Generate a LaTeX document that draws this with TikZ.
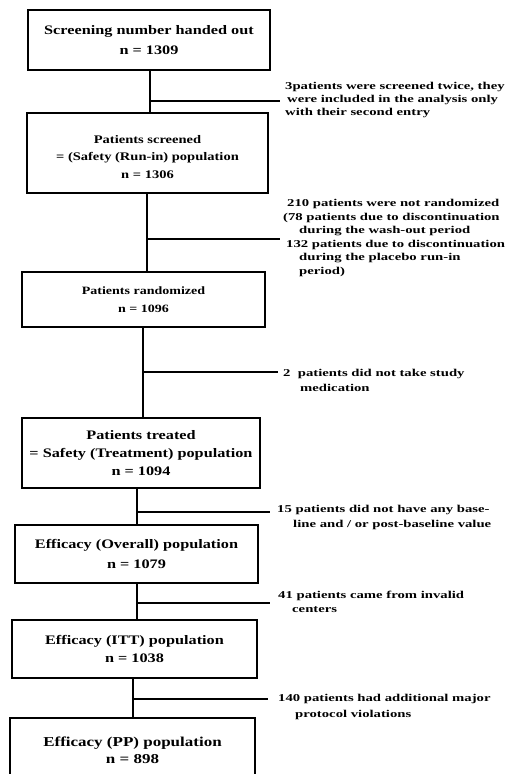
\documentclass[tikz,border=0pt]{standalone}
\usepackage{fontspec}
\setmainfont{Liberation Serif}
\newfontfamily\sidefont{Liberation Serif}[FakeStretch=1.4]
\newfontfamily\boxfontfam{Liberation Serif}[FakeStretch=1.25]
\begin{document}
\begin{tikzpicture}[x=1pt,y=-1pt,
  box/.style={draw, line width=1.5pt, align=center, inner sep=0pt,
    font=\boxfontfam\bfseries\fontsize{11.6}{17.5}\selectfont},
  midbox/.style={box, font=\boxfontfam\bfseries\fontsize{11.2}{18}\selectfont},
  bigbox/.style={box, font=\boxfontfam\bfseries\fontsize{13}{20}\selectfont},
  lowbox/.style={box, font=\boxfontfam\bfseries\fontsize{13}{18}\selectfont},
  widebox/.style={box, font=\boxfontfam\bfseries\fontsize{13}{20}\selectfont},
  side/.style={align=left, inner sep=0pt, anchor=base west,
    font=\sidefont\bfseries\fontsize{10.5}{13}\selectfont},
  link/.style={line width=1.5pt}]
\useasboundingbox (0,0) rectangle (522,774);
\clip (0,0) rectangle (522,774);

% boxes
\node[bigbox, minimum width=242pt, minimum height=60pt] (b1) at (149,40)
  {Screening number handed out\\ n = 1309};
\node[box, minimum width=241pt, minimum height=80pt] (b2) at (147.5,153)
  {\rule{0pt}{16pt}Patients screened\\ = (Safety (Run-in) population\\ n = 1306};
\node[midbox, minimum width=243pt, minimum height=55pt] (b3) at (143.5,299.5)
  {Patients randomized\\ n = 1096};
\node[lowbox, minimum width=238pt, minimum height=70pt] (b4) at (141,453)
  {Patients treated\\ = Safety (Treatment) population\\ n = 1094};
\node[widebox, minimum width=243pt, minimum height=58pt] (b5) at (136.5,554)
  {Efficacy (Overall) population\\ n = 1079};
\node[lowbox, minimum width=245pt, minimum height=58pt] (b6) at (134.5,649)
  {Efficacy (ITT) population\\ n = 1038};
\node[lowbox, font=\boxfontfam\bfseries\fontsize{13.6}{17}\selectfont,
  minimum width=245pt, minimum height=64pt] (b7) at (132.5,750)
  {Efficacy (PP) population\\ n = 898};

% junctions and free ends
\coordinate (j1) at (150,101); \coordinate (e1) at (280,101);
\coordinate (j2) at (147,239); \coordinate (e2) at (280,239);
\coordinate (j3) at (143,372); \coordinate (e3) at (278,372);
\coordinate (j4) at (137,512); \coordinate (e4) at (270,512);
\coordinate (j5) at (137,603); \coordinate (e5) at (270,603);
\coordinate (j6) at (133,699); \coordinate (e6) at (268,699);

% main flow
\draw[link] (b1.south -| j1) -- (b2.north -| j1);
\draw[link] (b2.south -| j2) -- (b3.north -| j2);
\draw[link] (b3.south -| j3) -- (b4.north -| j3);
\draw[link] (b4.south -| j4) -- (b5.north -| j4);
\draw[link] (b5.south -| j5) -- (b6.north -| j5);
\draw[link] (b6.south -| j6) -- (b7.north -| j6);

% branches
\draw[link] (j1) -- (e1);
\draw[link] (j2) -- (e2);
\draw[link] (j3) -- (e3);
\draw[link] (j4) -- (e4);
\draw[link] (j5) -- (e5);
\draw[link] (j6) -- (e6);

% side notes (base anchor = baseline of the last line)
\node[side] (s1) at (285,115)
  {3patients were screened twice, they\\
   \hspace*{2pt}were included in the analysis only\\
   with their second entry};
\node[side, font=\sidefont\bfseries\fontsize{10.5}{13.5}\selectfont] (s2) at (283,274)
  {\hspace*{4pt}210 patients were not randomized\\
   (78 patients due to discontinuation\\
   \hspace*{16pt}during the wash-out period\\
   \hspace*{3pt}132 patients due to discontinuation\\
   \hspace*{16pt}during the placebo run-in\\
   \hspace*{16pt}period)};
\node[side, font=\sidefont\bfseries\fontsize{10.5}{15}\selectfont] (s3) at (283,391)
  {2\ \ patients did not take study\\
   \hspace*{17pt}medication};
\node[side, font=\sidefont\bfseries\fontsize{10.5}{15}\selectfont] (s4) at (277,527)
  {15 patients did not have any base-\\
   \hspace*{16pt}line and / or post-baseline value};
\node[side, font=\sidefont\bfseries\fontsize{10.5}{14}\selectfont] (s5) at (278,612)
  {41 patients came from invalid\\
   \hspace*{14pt}centers};
\node[side, font=\sidefont\bfseries\fontsize{10.5}{16}\selectfont] (s6) at (278,717)
  {140 patients had additional major\\
   \hspace*{17pt}protocol violations};
\end{tikzpicture}
\end{document}
